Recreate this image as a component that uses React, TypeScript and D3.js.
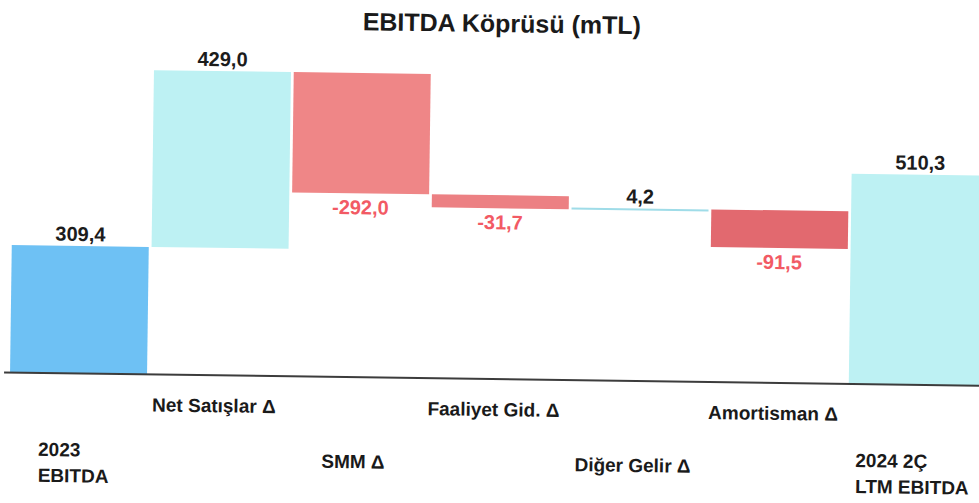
import React, { useEffect, useRef } from "react";
import * as d3 from "d3";

// ---- data ----
const title = "EBITDA Köprüsü (mTL)";
const categories = [
  "2023\nEBITDA",
  "Net Satışlar Δ",
  "SMM Δ",
  "Faaliyet Gid. Δ",
  "Diğer Gelir Δ",
  "Amortisman Δ",
  "2024 2Ç\nLTM EBITDA",
];
const values = [309.4, 429.0, -292.0, -31.7, 4.2, -91.5, 510.3];
const isTotal = [true, false, false, false, false, false, true];

// ---- styles ----
const W = 979;
const H = 503;
const barColors = ["#6EC1F4", "#BDF1F3", "#EF8687", "#EC8083", "#9FDCE8", "#E2696F", "#BDF1F3"];
const posLabelColor = "#1c1c1c";
const negLabelColor = "#F25A64";
const fontFamily = "'Liberation Sans', Arial, sans-serif";

const trFmt = d3.formatLocale({
  decimal: ",",
  thousands: ".",
  grouping: [3],
  currency: ["", ""],
  minus: "-",
}).format(".1f");

export default function App() {
  const ref = useRef<SVGSVGElement | null>(null);

  useEffect(() => {
    const svg = d3.select(ref.current);
    svg.selectAll("*").remove();

    const baseY = 379;
    const x = d3
      .scaleBand<number>()
      .domain(d3.range(categories.length))
      .range([10, 985.8])
      .paddingInner(0.02)
      .paddingOuter(0);
    const y = d3.scaleLinear().domain([0, 920]).range([baseY, 0]);

    // compute waterfall segments
    let running = 0;
    const bars = values.map((v, i) => {
      let lo: number, hi: number;
      if (isTotal[i]) {
        lo = 0;
        hi = v;
        running = v;
      } else {
        lo = running;
        hi = running + v;
        running = hi;
      }
      return { i, v, lo: Math.min(lo, hi), hi: Math.max(lo, hi) };
    });

    svg.append("rect").attr("width", W).attr("height", H).attr("fill", "#ffffff");

    const g = svg.append("g").attr("transform", `rotate(0.78, 490, ${baseY})`);

    g.append("text")
      .attr("x", 497)
      .attr("y", 32)
      .attr("text-anchor", "middle")
      .attr("font-family", fontFamily)
      .attr("font-weight", "bold")
      .attr("font-size", 25)
      .attr("fill", "#1a1a1a")
      .text(title);

    g.selectAll("rect.bar")
      .data(bars)
      .join("rect")
      .attr("class", "bar")
      .attr("x", (d) => x(d.i)!)
      .attr("width", x.bandwidth())
      .attr("y", (d) => y(d.hi))
      .attr("height", (d) => Math.max(2, y(d.lo) - y(d.hi)))
      .attr("fill", (d) => barColors[d.i]);

    // baseline
    g.append("line")
      .attr("x1", 4)
      .attr("x2", 1000)
      .attr("y1", baseY)
      .attr("y2", baseY)
      .attr("stroke", "#3c3c3c")
      .attr("stroke-width", 2);

    // value labels
    g.selectAll("text.val")
      .data(bars)
      .join("text")
      .attr("class", "val")
      .attr("x", (d) => x(d.i)! + x.bandwidth() / 2)
      .attr("y", (d) => (d.v < 0 ? y(d.lo) + 21 : y(d.hi) - 5))
      .attr("text-anchor", "middle")
      .attr("font-family", fontFamily)
      .attr("font-weight", "bold")
      .attr("font-size", 20)
      .attr("fill", (d) => (d.v < 0 ? negLabelColor : posLabelColor))
      .text((d) => trFmt(d.v));

    // category labels (staggered)
    categories.forEach((c, i) => {
      const lines = c.split("\n");
      const cx = x(i)! + x.bandwidth() / 2 - 4;
      const t = g
        .append("text")
        .attr("font-family", fontFamily)
        .attr("font-weight", "bold")
        .attr("font-size", 19)
        .attr("fill", "#1a1a1a")
        .attr("text-anchor", "start");
      let baselines: number[];
      if (i % 2 === 1) baselines = [416];
      else if (lines.length === 1) baselines = [470];
      else baselines = [462, 488];
      const spans = lines.map((ln, k) =>
        t.append("tspan").attr("y", baselines[k]).text(ln)
      );
      const widths = spans.map((s) => (s.node() as SVGTSpanElement).getComputedTextLength());
      const maxW = d3.max(widths) || 0;
      spans.forEach((s) => s.attr("x", cx - maxW / 2));
    });
  }, []);

  return (
    <svg
      ref={ref}
      width={W}
      height={H}
      style={{ position: "absolute", left: 0, top: 0, display: "block" }}
    />
  );
}
